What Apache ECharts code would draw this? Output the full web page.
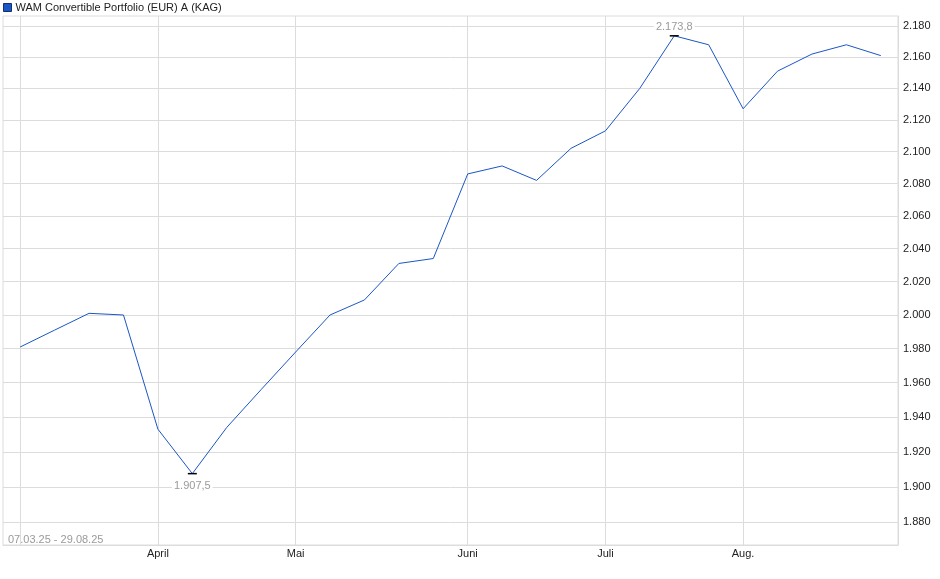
<!DOCTYPE html>
<html>
<head>
<meta charset="utf-8">
<script src="https://cdn.jsdelivr.net/npm/echarts@6/dist/echarts.min.js"></script>
<style>
  html, body { margin: 0; padding: 0; background: #fff; }
  #chart { width: 940px; height: 579px; }
</style>
</head>
<body>
<div id="chart"></div>
<script>
// weekly prices, 07.03.25 - 29.08.25
var dates = ['07.03.25', '14.03.25', '21.03.25', '28.03.25', '04.04.25', '11.04.25', '18.04.25',
    '25.04.25', '02.05.25', '09.05.25', '16.05.25', '23.05.25', '30.05.25', '06.06.25', '13.06.25',
    '20.06.25', '27.06.25', '04.07.25', '11.07.25', '18.07.25', '25.07.25', '01.08.25', '08.08.25',
    '15.08.25', '22.08.25', '29.08.25'];
var prices = [1981, 1991, 2001, 2000, 1933, 1907.5, 1934, 1956, 1978, 2000, 2009, 2031, 2034,
    2086, 2091, 2082, 2102, 2113, 2140, 2173.8, 2168, 2127, 2151, 2162, 2168, 2161];
var monthIdx = [4, 8, 13, 17, 21];
var monthNames = ['April', 'Mai', 'Juni', 'Juli', 'Aug.'];
var yTicks = [1880, 1900, 1920, 1940, 1960, 1980, 2000, 2020, 2040, 2060, 2080, 2100, 2120, 2140, 2160, 2180];
var seriesName = 'WAM Convertible Portfolio (EUR) A (KAG)';

var fontFam = '"Liberation Sans", Arial, sans-serif';

// german number format: 2173.8 -> 2.173,8
function fmtDe(v, dec) {
    var s = v.toFixed(dec);
    var parts = s.split('.');
    var intPart = parts[0].replace(/\B(?=(\d{3})+(?!\d))/g, '.');
    return parts.length > 1 ? intPart + ',' + parts[1] : intPart;
}

var vLines = [{ xAxis: 0 }];
for (var i = 0; i < monthIdx.length; i++) {
    vLines.push({ xAxis: monthIdx[i] });
}

var chart = echarts.init(document.getElementById('chart'));
var option = {
    animation: false,
    textStyle: { fontFamily: fontFam },
    legend: {
        left: 0,
        top: 0,
        icon: 'rect',
        itemWidth: 8,
        itemHeight: 8,
        itemGap: 5,
        padding: [2, 3],
        itemStyle: { borderColor: '#12306e', borderWidth: 1 },
        textStyle: { fontSize: 11, color: '#222', fontFamily: fontFam, padding: [0, 0, 0, -1] },
        data: [seriesName]
    },
    grid: {
        left: 3,
        right: 42,
        top: 16,
        bottom: 34,
        show: true,
        borderColor: '#dcdcdc',
        borderWidth: 1,
        containLabel: false
    },
    xAxis: {
        type: 'category',
        data: dates,
        boundaryGap: true,
        axisLine: { lineStyle: { color: '#dcdcdc' } },
        axisTick: { show: false },
        splitLine: { show: false },
        axisLabel: {
            interval: 0,
            margin: 3,
            fontSize: 11,
            color: '#222',
            fontFamily: fontFam,
            formatter: function (val, idx) {
                var k = monthIdx.indexOf(idx);
                return k >= 0 ? monthNames[k] : '';
            }
        }
    },
    yAxis: {
        type: 'log',
        logBase: 10,
        position: 'right',
        min: 1867.3,
        max: 2186.7,
        axisLine: { show: true, lineStyle: { color: '#dcdcdc' } },
        axisTick: { show: false, customValues: yTicks },
        splitLine: { show: true, lineStyle: { color: '#dcdcdc', width: 1 } },
        axisLabel: {
            customValues: yTicks,
            margin: 5,
            fontSize: 11,
            color: '#222',
            fontFamily: fontFam,
            formatter: function (v) { return fmtDe(Math.round(v), 0); }
        }
    },
    graphic: [{
        type: 'text',
        left: 8,
        top: 534,
        silent: true,
        style: {
            text: dates[0] + ' - ' + dates[dates.length - 1],
            fill: '#9a9a9a',
            font: '11px ' + fontFam
        }
    }],
    series: [{
        name: seriesName,
        type: 'line',
        data: prices,
        symbol: 'none',
        lineStyle: { color: '#1a56c4', width: 1 },
        itemStyle: { color: '#1a56c4' },
        markLine: {
            silent: true,
            symbol: ['none', 'none'],
            label: { show: false },
            lineStyle: { color: '#dcdcdc', width: 1, type: 'solid' },
            data: vLines,
            z: 0
        },
        markPoint: {
            symbol: 'rect',
            symbolSize: [9, 1.5],
            itemStyle: { color: '#000' },
            label: {
                fontSize: 11,
                color: '#9a9a9a',
                backgroundColor: '#fff',
                padding: [0, 2],
                fontFamily: fontFam,
                formatter: function (p) { return fmtDe(p.value, 1); }
            },
            data: [
                { type: 'max', label: { position: 'top', distance: 3 } },
                { type: 'min', label: { position: 'bottom', distance: 6 } }
            ]
        }
    }]
};
chart.setOption(option);
</script>
</body>
</html>
